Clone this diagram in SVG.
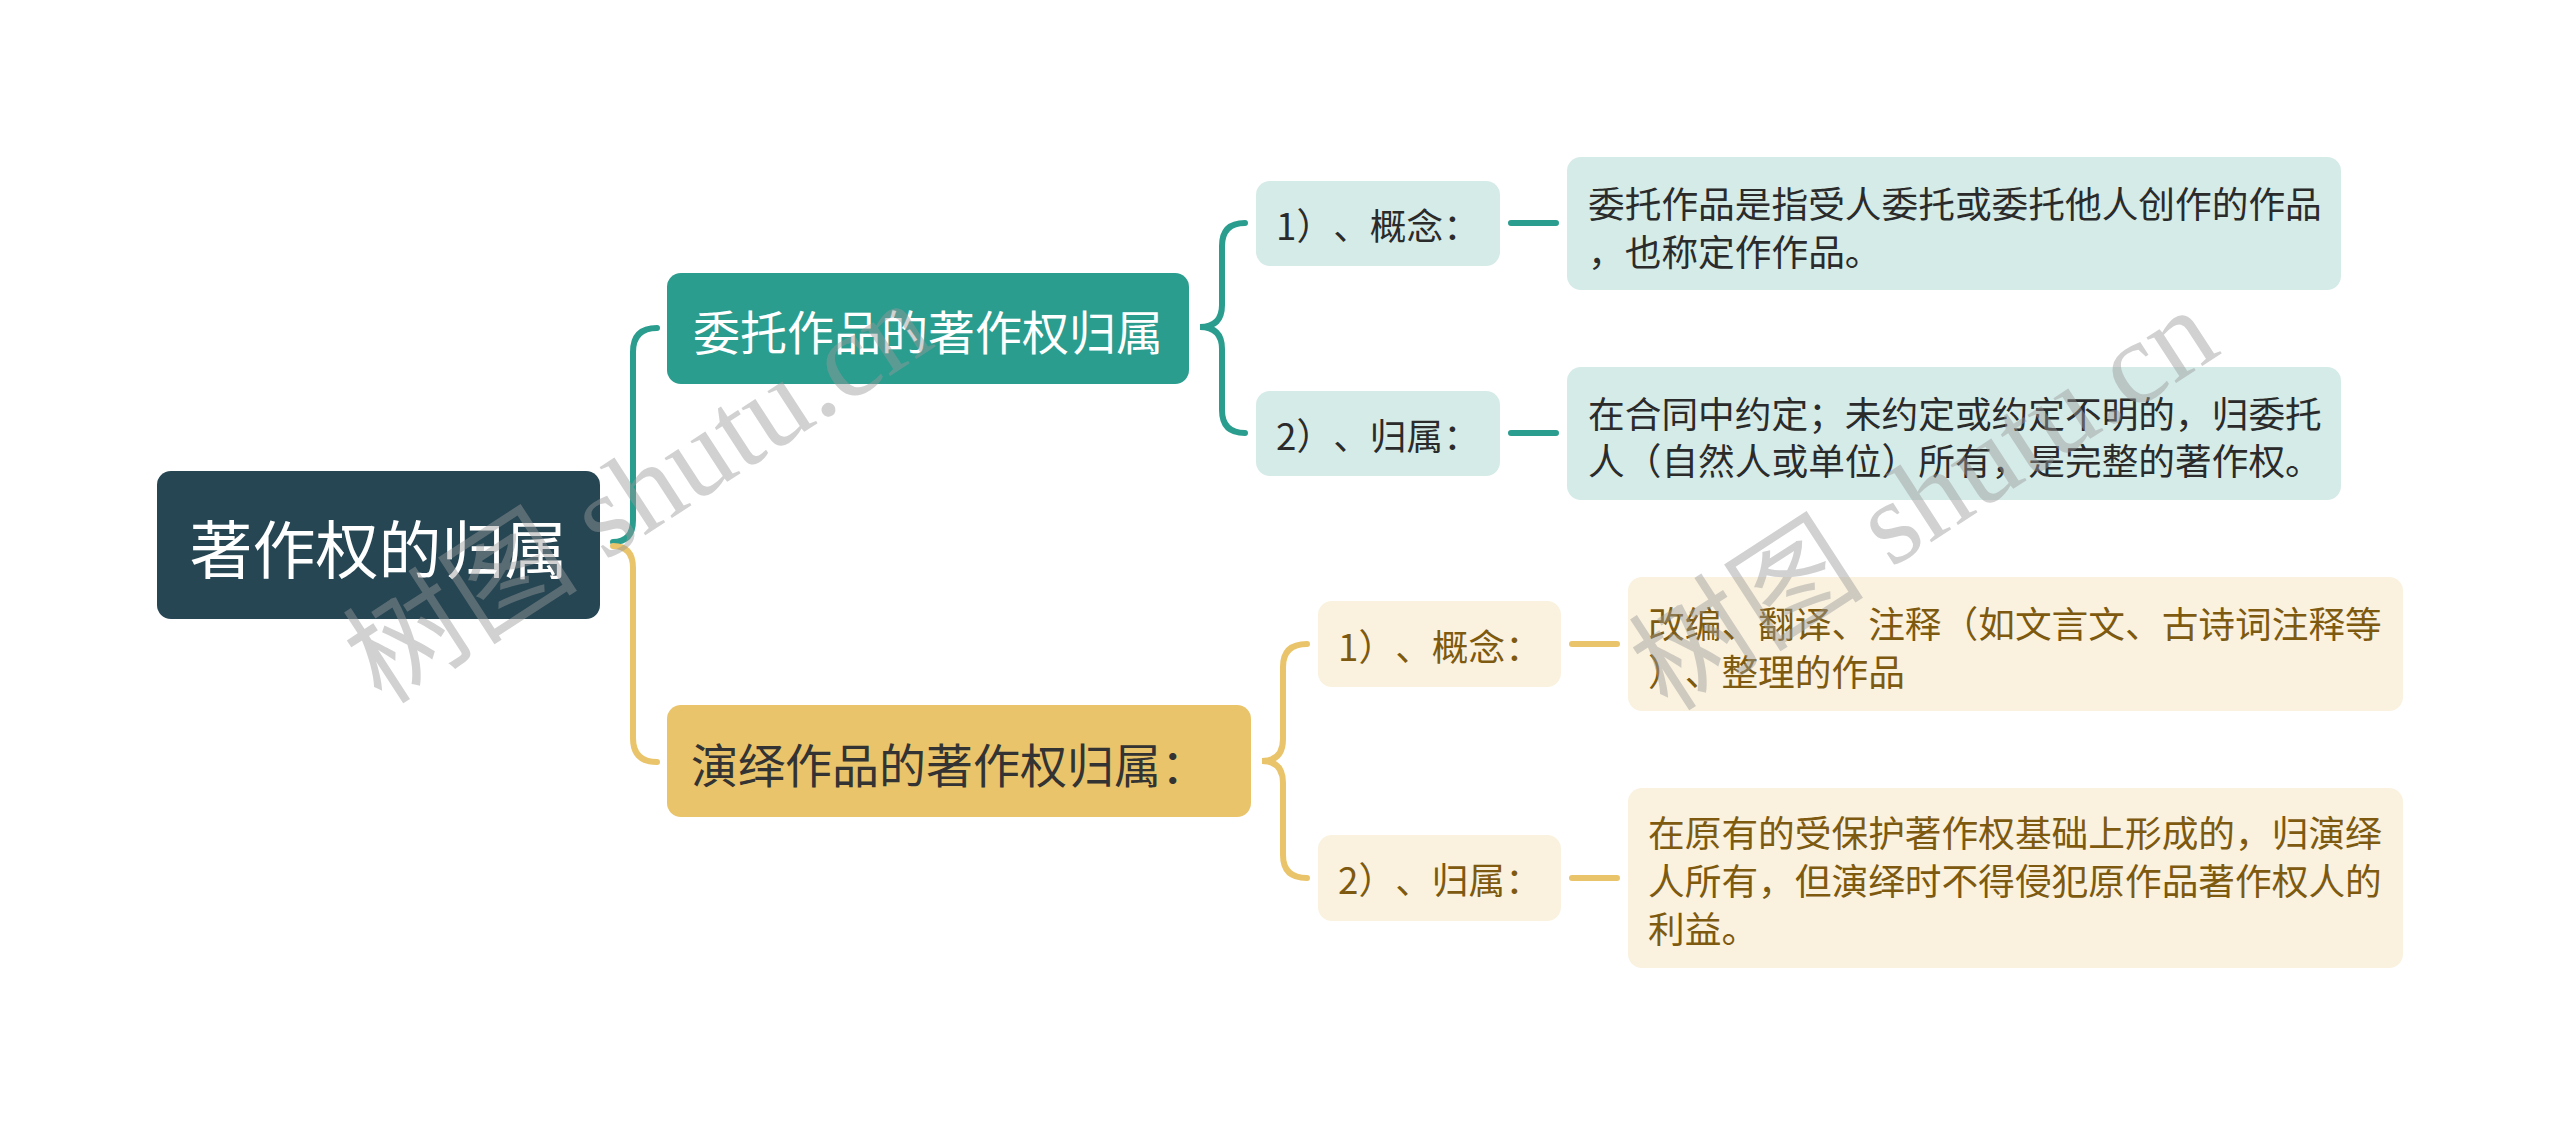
<svg xmlns="http://www.w3.org/2000/svg" width="2560" height="1125" viewBox="0 0 2560 1125">
<style>
.t{font-family:"Noto Sans CJK SC","Noto Sans",sans-serif;dominant-baseline:central;text-spacing-trim:space-all}
.root{fill:#264653}
.b1{fill:#2A9D8F}
.b2{fill:#E9C46A}
.lt{fill:#D5EBE8}
.ly{fill:#FAF2DF}
.c-t{fill:none;stroke:#2A9D8F;stroke-width:6;stroke-linecap:round}
.c-y{fill:none;stroke:#E9C46A;stroke-width:6;stroke-linecap:round}
.s{font-size:36.7px}
.dk{fill:#2b2b2b}
.br{fill:#7D5A10}
.wm{font-family:"Liberation Serif","Noto Sans CJK SC",serif;font-size:118px;fill:#9a9a9a;opacity:0.45}
</style>
<rect width="2560" height="1125" fill="#ffffff"/>
<g id="connectors">
<path class="c-t" d="M657 328 Q633 328 633 352 L633 520 Q633 542 613 542"/>
<path class="c-y" d="M613 546 Q633 546 633 568 L633 738 Q633 762 657 762"/>
<path class="c-t" stroke-width="5" d="M1245 223 Q1222 223 1222 246 L1222 305 Q1222 327 1200 327 Q1222 327 1222 349 L1222 410 Q1222 433 1245 433"/>
<path class="c-y" stroke-width="5" d="M1307 644 Q1283 644 1283 667 L1283 739 Q1283 761 1262 761 Q1283 761 1283 783 L1283 855 Q1283 878 1307 878"/>
<path class="c-t" stroke-linecap="butt" d="M1511 223 H1556 M1511 433 H1556"/>
<path class="c-y" stroke-linecap="butt" d="M1572 644 H1617 M1572 878 H1617"/>
</g>
<g id="root">
<rect class="root" x="157" y="471" width="443" height="148" rx="14"/>
<text class="t" x="378.5" y="545" font-size="63" fill="#ffffff" text-anchor="middle">著作权的归属</text>
</g>
<g id="branch1">
<rect class="b1" x="667" y="273" width="522" height="111" rx="14"/>
<text class="t" x="928" y="329" font-size="47" fill="#ffffff" text-anchor="middle">委托作品的著作权归属</text>
</g>
<g id="branch2">
<rect class="b2" x="667" y="705" width="584" height="112" rx="14"/>
<text class="t" x="691" y="762" font-size="47" fill="#333333">演绎作品的著作权归属：</text>
</g>
<g id="leaf1a">
<rect class="lt" x="1256" y="181" width="244" height="85" rx="14"/>
<text class="t s dk" x="1378" y="224" text-anchor="middle">1）、概念：</text>
</g>
<g id="leaf1b">
<rect class="lt" x="1256" y="391" width="244" height="85" rx="14"/>
<text class="t s dk" x="1378" y="434" text-anchor="middle">2）、归属：</text>
</g>
<g id="desc1a">
<rect class="lt" x="1567" y="157" width="774" height="133" rx="14"/>
<text class="t s dk"><tspan x="1588" y="202">委托作品是指受人委托或委托他人创作的作品</tspan><tspan x="1588" y="250">，也称定作作品。</tspan></text>
</g>
<g id="desc1b">
<rect class="lt" x="1567" y="367" width="774" height="133" rx="14"/>
<text class="t s dk"><tspan x="1588" y="412">在合同中约定；未约定或约定不明的，归委托</tspan><tspan x="1588" y="459">人（自然人或单位）所有，是完整的著作权。</tspan></text>
</g>
<g id="leaf2a">
<rect class="ly" x="1318" y="601" width="243" height="86" rx="14"/>
<text class="t s br" x="1440" y="645" text-anchor="middle">1）、概念：</text>
</g>
<g id="leaf2b">
<rect class="ly" x="1318" y="835" width="243" height="86" rx="14"/>
<text class="t s br" x="1440" y="878" text-anchor="middle">2）、归属：</text>
</g>
<g id="desc2a">
<rect class="ly" x="1628" y="577" width="775" height="134" rx="14"/>
<text class="t s br"><tspan x="1648" y="622">改编、翻译、注释（如文言文、古诗词注释等</tspan><tspan x="1648" y="670">）、整理的作品</tspan></text>
</g>
<g id="desc2b">
<rect class="ly" x="1628" y="788" width="775" height="180" rx="14"/>
<text class="t s br"><tspan x="1648" y="831">在原有的受保护著作权基础上形成的，归演绎</tspan><tspan x="1648" y="879">人所有，但演绎时不得侵犯原作品著作权人的</tspan><tspan x="1648" y="927">利益。</tspan></text>
</g>
<g id="watermark">
<text class="wm" x="382" y="706" transform="rotate(-33 382 706)">树图 shutu.cn</text>
<text class="wm" x="1668" y="713" transform="rotate(-33 1668 713)">树图 shutu.cn</text>
</g>
</svg>
